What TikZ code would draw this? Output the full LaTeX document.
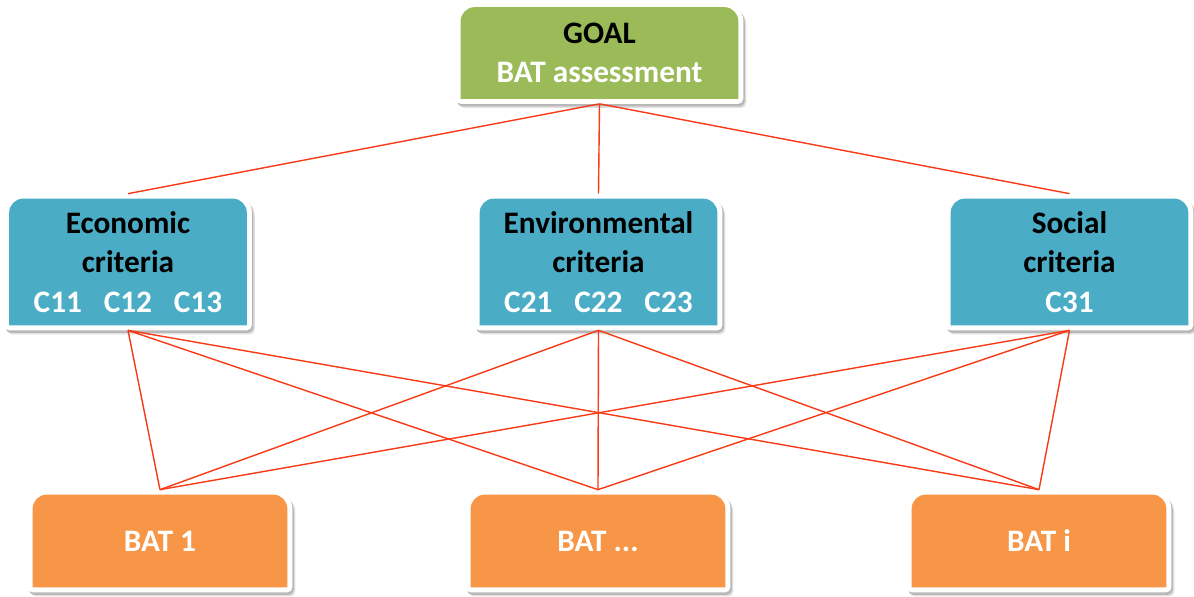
\documentclass[tikz,border=0pt]{standalone}
\usepackage{fontspec}
\setmainfont{Carlito}
\usetikzlibrary{backgrounds}
\definecolor{goalgreen}{RGB}{155,187,89}
\definecolor{critblue}{RGB}{75,172,198}
\definecolor{batorange}{RGB}{247,150,70}
\definecolor{linkred}{RGB}{248,58,22}
\tikzset{
    box/.style = {inner sep=0,align=center,font=\bfseries\fontsize{17.8}{22.5}\selectfont},
    goalbox/.style = {box,minimum width=5.54cm,minimum height=1.82cm},
    critbox/.style = {box,minimum width=4.74cm,minimum height=2.52cm},
    batbox/.style = {box,text=white,minimum width=5.08cm,minimum height=1.84cm},
    link/.style = {linkred,line width=0.8pt},
    boxshadow/.style = {draw=black!#1,fill=black!#1,line width=0.2cm,line join=round},
    boxfill/.style = {fill=#1,preaction={draw=white,line width=0.2cm,line join=round}},
    % outline of a node, rounded at the top only
    topround/.style = {insert path={
        (#1.south west) -- ([yshift=-0.28cm]#1.north west)
        arc[start angle=180,end angle=90,radius=0.28cm]
        -- ([xshift=-0.28cm]#1.north east)
        arc[start angle=90,end angle=0,radius=0.28cm]
        -- (#1.south east) -- cycle}}
}

\begin{document}
\begin{tikzpicture}[x=0.02cm,y=-0.02cm]
    \useasboundingbox (0,0) rectangle (1194,597);
    % Goal
    \node[goalbox] (goal) at (599.5,53) {GOAL\\\textcolor{white}{BAT assessment}};
    % Criteria
    \node[critbox] (econ) at (128,262)
        {Economic\\criteria\\\textcolor{white}{C11\hspace{0.7em}C12\hspace{0.7em}C13}};
    \node[critbox] (env) at (598.5,262)
        {Environmental\\criteria\\\textcolor{white}{C21\hspace{0.7em}C22\hspace{0.7em}C23}};
    \node[critbox] (soc) at (1069.5,262)
        {Social\\criteria\\\textcolor{white}{C31}};
    % Alternatives
    \node[batbox] (bat1) at (160,541) {BAT 1};
    \node[batbox] (batn) at (598,541) {BAT ...};
    \node[batbox] (bati) at (1039,541) {BAT i};
    \begin{scope}[on background layer]
        % Shadows
        \foreach \n in {goal,econ,env,soc,bat1,batn,bati}{
            \path[boxshadow=12,transform canvas={shift={(0.06cm,-0.08cm)}}] [topround=\n];
            \path[boxshadow=28,transform canvas={shift={(0.03cm,-0.05cm)}}] [topround=\n];
        }
        % Boxes
        \foreach \n/\col in {goal/goalgreen,econ/critblue,env/critblue,soc/critblue,
                bat1/batorange,batn/batorange,bati/batorange}
            \path[boxfill=\col] [topround=\n];
        % Links, ending on the white rims
        \foreach \c in {econ,env,soc}
            \draw[link] ([yshift=-0.1cm]goal.south) to ([yshift=0.1cm]\c.north);
        \foreach \c in {econ,env,soc}
            \foreach \b in {bat1,batn,bati}
                \draw[link] ([yshift=-0.1cm]\c.south) to ([yshift=0.1cm]\b.north);
    \end{scope}
\end{tikzpicture}
\end{document}
